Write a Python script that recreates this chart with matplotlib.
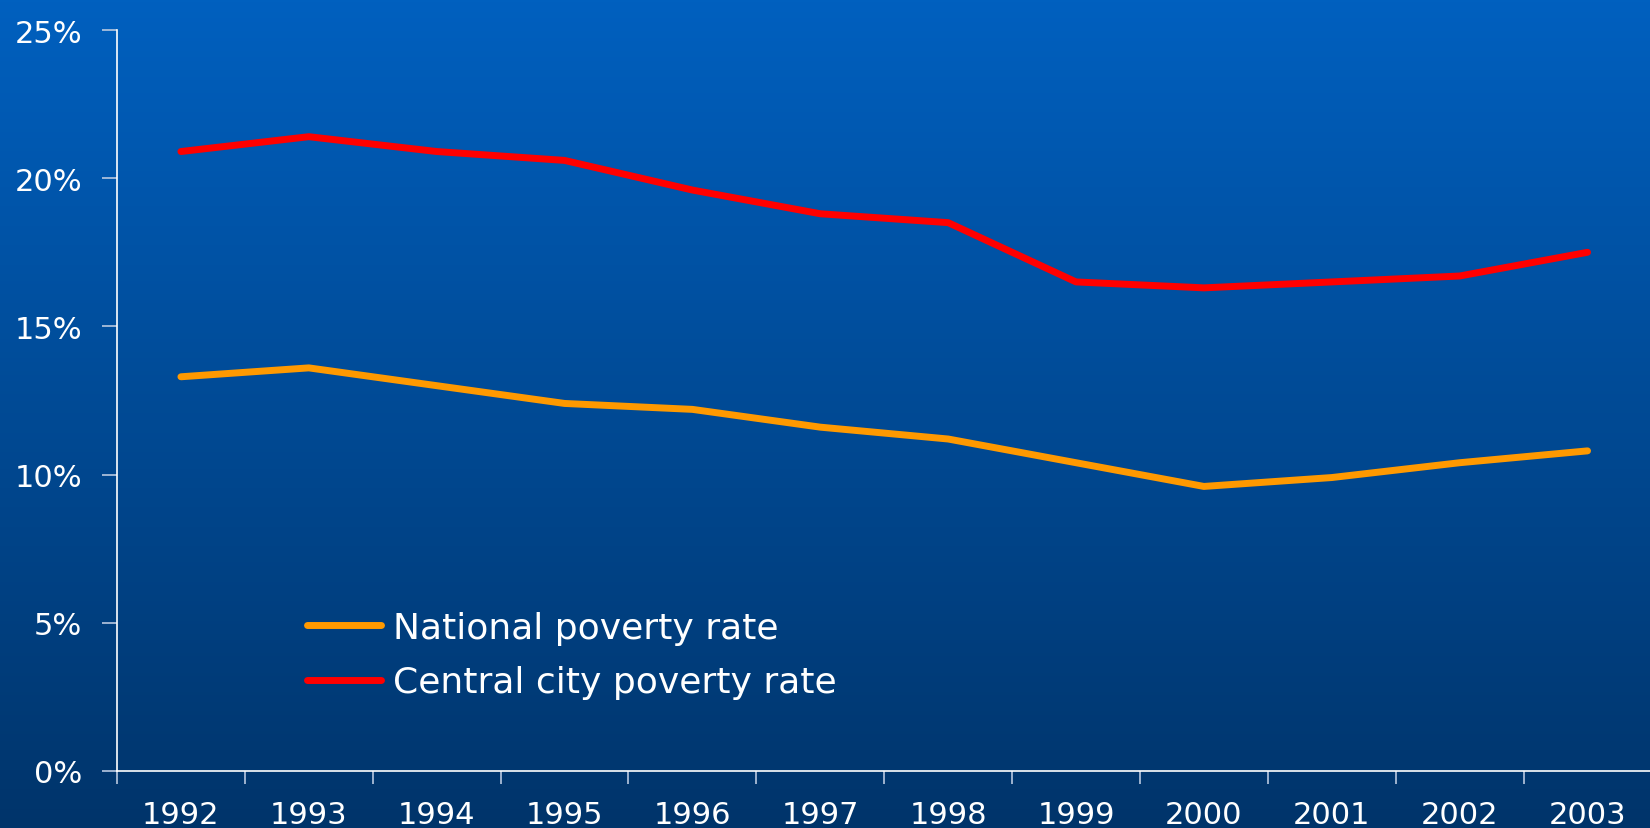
import numpy as np
import matplotlib.pyplot as plt
from matplotlib.colors import LinearSegmentedColormap

years = ['1992', '1993', '1994', '1995', '1996', '1997',
         '1998', '1999', '2000', '2001', '2002', '2003']
national = [13.3, 13.6, 13.0, 12.4, 12.2, 11.6, 11.2, 10.4, 9.6, 9.9, 10.4, 10.8]
central = [20.9, 21.4, 20.9, 20.6, 19.6, 18.8, 18.5, 16.5, 16.3, 16.5, 16.7, 17.5]

plt.rcParams['font.family'] = ['DejaVu Sans']

fig = plt.figure(figsize=(16.5, 8.29), dpi=100)

# background gradient, top lighter blue to dark navy at the bottom
bg = fig.add_axes([0, 0, 1, 1], zorder=-10)
cmap = LinearSegmentedColormap.from_list('bg', ['#0060BF', '#00346A'])
grad = np.linspace(0, 1, 256).reshape(-1, 1)
bg.imshow(grad, aspect='auto', cmap=cmap, extent=[0, 1, 0, 1])
bg.axis('off')

ax = fig.add_axes([0.0709, 0.0688, 0.93, 0.8938])
ax.patch.set_alpha(0)

x = np.arange(len(years))
ax.plot(x, national, color='#FF9900', lw=5, solid_capstyle='round',
        solid_joinstyle='round', label='National poverty rate')
ax.plot(x, central, color='#FF0000', lw=5, solid_capstyle='round',
        solid_joinstyle='round', label='Central city poverty rate')

ax.set_xlim(-0.5, 11.5)
ax.set_ylim(0, 25)

for s in ['top', 'right']:
    ax.spines[s].set_visible(False)
for s in ['left', 'bottom']:
    ax.spines[s].set_color('white')
    ax.spines[s].set_linewidth(1.2)

ax.set_yticks([0, 5, 10, 15, 20, 25])
ax.set_yticklabels(['0%', '5%', '10%', '15%', '20%', '25%'])
ax.tick_params(axis='y', colors='#B8C8E0', length=11, width=1.2,
               labelcolor='white', labelsize=22, pad=14)

ax.set_xticks(x)
ax.set_xticklabels(years)
ax.tick_params(axis='x', which='major', length=0, labelcolor='white',
               labelsize=22, pad=21)
ax.set_xticks(np.arange(-0.5, 12, 1), minor=True)
ax.tick_params(axis='x', which='minor', length=9, width=1.2, colors='#B8C8E0')

leg = ax.legend(loc='upper left', bbox_to_anchor=(0.175, 0.284),
                bbox_transform=fig.transFigure, frameon=False,
                fontsize=26, handlelength=2.05, handletextpad=0.33,
                labelspacing=0.57, borderpad=0)
for t in leg.get_texts():
    t.set_color('white')

fig.savefig('out.png', dpi=100)
